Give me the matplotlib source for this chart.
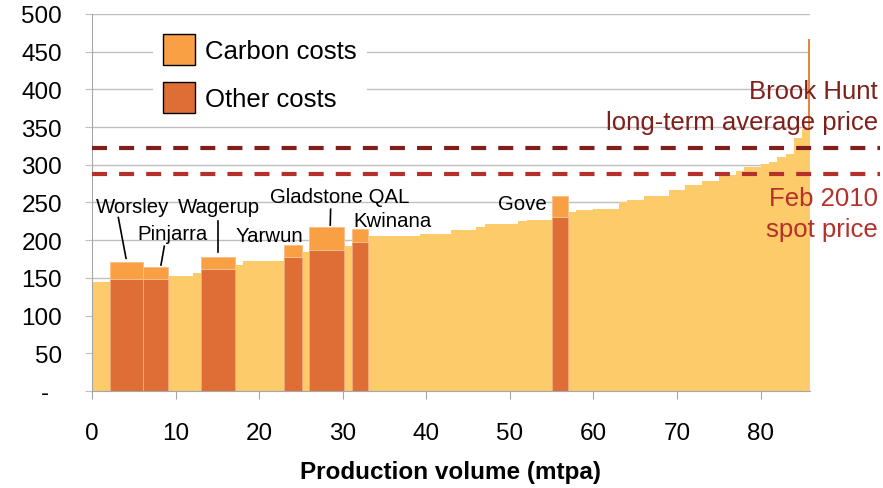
import matplotlib.pyplot as plt
from matplotlib.patches import Patch

plt.rcParams['font.family'] = ['Liberation Sans', 'DejaVu Sans']

# cost curve of the other refineries: volume range (mtpa) and cash cost
bg_left = [0, 9.06, 12.1, 17.1, 18.1, 25.1, 30.1, 33.0, 39.2, 43.0, 46.0, 47.0, 51.0, 52.0,
           56.9, 57.9, 60.0, 63.0, 64.0, 66.0, 69.0, 71.0, 73.0, 75.0, 77.0, 78.0, 80.0,
           81.0, 82.0, 83.0, 84.0, 85.0]
bg_right = [2.1, 12.1, 13.04, 18.1, 23.0, 26.0, 31.06, 39.2, 43.0, 46.0, 47.0, 51.0, 52.0, 55.0,
            57.9, 60.0, 63.0, 64.0, 66.0, 69.0, 71.0, 73.0, 75.0, 77.0, 78.0, 80.0, 81.0,
            82.0, 83.0, 84.0, 85.0, 85.9]
bg_cost = [145, 152, 156, 167, 173, 184, 192, 205, 208, 213, 218, 221, 225, 227,
           237, 240, 242, 250, 253, 258, 267, 273, 279, 287, 292, 297, 301,
           304, 310, 314, 335, 348]

# last (tiny) producer, very high cost
spike_left = 85.72
spike_right = 85.9
spike_cost = 467

# australian refineries
names = ['Worsley', 'Pinjarra', 'Wagerup', 'Yarwun', 'Gladstone QAL', 'Kwinana', 'Gove']
hl_left = [2.1, 6.1, 13.04, 23.0, 26.0, 31.06, 55.0]
hl_right = [6.1, 9.06, 17.1, 25.1, 30.1, 33.0, 56.9]
other_costs = [148, 148, 162, 178, 187, 198, 231]
carbon_costs = [23, 17, 16, 16, 31, 17, 27]

# label positions (x, baseline) and leader lines
lab_x = [4.87, 9.63, 15.2, 21.2, 29.6, 35.9, 51.5]
lab_y = [238, 202, 238, 199, 250, 219, 242]
leaders = {
    'Worsley': ((3.15, 4.07), (230, 176)),
    'Pinjarra': ((8.65, 8.25), (192, 167)),
    'Wagerup': ((15.1, 15.1), (225, 184)),
    'Gladstone QAL': ((28.55, 28.5), (241, 220)),
}

brook_hunt_price = 322
spot_price = 288

yellow = '#FECB6B'
c_other = '#DF6E36'
c_carbon = '#F9A044'

fig = plt.figure(figsize=(8.83, 4.89), dpi=100)
ax = fig.add_axes([0.1042, 0.1984, 0.8131, 0.7710])

# spike sits behind the last yellow step
ax.bar(spike_left, spike_cost, width=spike_right - spike_left, align='edge',
       color='#E9853F', linewidth=0, zorder=1.5)
bg_w = [r - l for l, r in zip(bg_left, bg_right)]
ax.bar(bg_left, bg_cost, width=bg_w, align='edge', color=yellow, linewidth=0, zorder=2)

hl_w = [r - l for l, r in zip(hl_left, hl_right)]
ax.bar(hl_left, other_costs, width=hl_w, align='edge', color=c_other,
       edgecolor='#F2A878', linewidth=0.7, zorder=3)
ax.bar(hl_left, carbon_costs, bottom=other_costs, width=hl_w, align='edge', color=c_carbon,
       edgecolor='#FBC08A', linewidth=0.7, zorder=3)

for n, x, y in zip(names, lab_x, lab_y):
    ax.text(x, y, n, ha='center', va='baseline', fontsize=14.7, zorder=6)
for n, (xs, ys) in leaders.items():
    ax.plot(xs, ys, color='black', lw=1.2, zorder=6)

# price lines
ax.axhline(brook_hunt_price, xmin=0, xmax=1.0975, color='#7F1F1A', lw=3,
           dashes=(3.6, 2.9), clip_on=False, zorder=4)
ax.axhline(spot_price, xmin=0, xmax=1.0975, color='#B5302A', lw=3,
           dashes=(3.6, 2.9), clip_on=False, zorder=4)

tr = ax.get_yaxis_transform()
ax.text(1.0947, 388, 'Brook Hunt', transform=tr, ha='right', va='baseline',
        fontsize=18.5, color='#7F1F1A', zorder=5)
ax.text(1.0947, 347, 'long-term average price', transform=tr, ha='right', va='baseline',
        fontsize=18.5, color='#7F1F1A', zorder=5)
ax.text(1.0947, 246, 'Feb 2010', transform=tr, ha='right', va='baseline',
        fontsize=18.5, color='#B5302A', zorder=5)
ax.text(1.0947, 205, 'spot price', transform=tr, ha='right', va='baseline',
        fontsize=18.5, color='#B5302A', zorder=5)

ax.set_xlim(0, 85.9)
ax.set_ylim(0, 500)
ax.set_xticks(range(0, 81, 10))
ax.set_yticks(range(0, 501, 50))
ax.set_yticklabels(['-  '] + [str(v) for v in range(50, 501, 50)])
ax.tick_params(axis='y', length=5, color='#BFBFBF', pad=16.5, labelsize=17.5)
ax.tick_params(axis='x', length=6, color='#A6A6A6', pad=16, labelsize=17.5)
ax.set_axisbelow(True)
ax.yaxis.grid(True, color='#BFBFBF', lw=1)

for s in ['top', 'right']:
    ax.spines[s].set_visible(False)
ax.spines['left'].set_color('#A6A6A6')
ax.spines['bottom'].set_color('#A6A6A6')

ax.set_xlabel('Production volume (mtpa)', fontsize=17.5, fontweight='bold', labelpad=12)

handles = [Patch(facecolor=c_carbon, edgecolor='black', lw=1, label='Carbon costs'),
           Patch(facecolor=c_other, edgecolor='black', lw=1, label='Other costs')]
leg = ax.legend(handles=handles, loc='upper left', bbox_to_anchor=(0.0845, 0.975),
                fontsize=18.5, frameon=True, fancybox=False, borderpad=0.4,
                borderaxespad=0, handlelength=1.25, handleheight=1.47,
                handletextpad=0.4, labelspacing=0.7)
leg.get_frame().set_edgecolor('none')
leg.get_frame().set_facecolor('white')
leg.get_frame().set_alpha(1)

fig.savefig('out.png', dpi=100)
